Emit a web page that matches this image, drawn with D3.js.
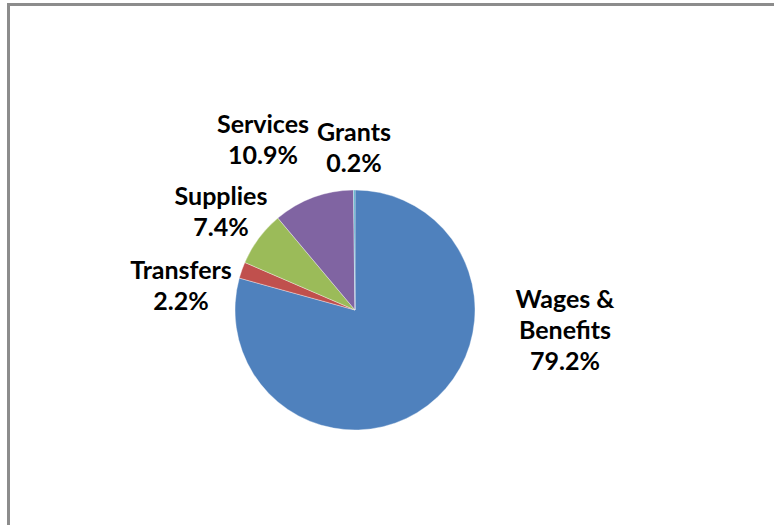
<!DOCTYPE html>
<html>
<head>
<meta charset="utf-8">
<script src="https://cdn.jsdelivr.net/npm/d3@7"></script>
<style>
  html, body { margin: 0; padding: 0; background: #fff; }
  svg { display: block; }
  .lbl { font-family: Lato, "Open Sans", sans-serif; font-weight: 700; fill: #000; }
</style>
</head>
<body>
<svg id="chart" width="774" height="525"></svg>
<script>
// Budget breakdown by expense category (percent of total)
const categories = ["Wages & Benefits", "Transfers", "Supplies", "Services", "Grants"];
const shares = [79.2, 2.2, 7.4, 10.9, 0.2];
const colors = ["#4F81BD", "#C0504D", "#9BBB59", "#8064A2", "#4BACC6"];

// Label lines for each category, placed outside its slice
const labelLines = [
  ["Wages &", "Benefits"],
  ["Transfers"],
  ["Supplies"],
  ["Services"],
  ["Grants"]
];
const labelPos = [
  { x: 565, y: 308 },
  { x: 181, y: 279 },
  { x: 221, y: 205 },
  { x: 263, y: 133 },
  { x: 354, y: 141 }
];

const svg = d3.select("#chart");

// Chart frame
svg.append("path")
  .attr("d", "M8.5,530 L8.5,4.5 L780,4.5")
  .attr("fill", "none")
  .attr("stroke", "#8c8c8c")
  .attr("stroke-width", 3);

const cx = 355, cy = 310, r = 120;

const pie = d3.pie().sort(null).value(d => d.value)
  .startAngle(0).endAngle(2 * Math.PI);
const arc = d3.arc().innerRadius(0).outerRadius(r);

const data = categories.map((c, i) => ({ name: c, value: shares[i], color: colors[i] }));

const g = svg.append("g").attr("transform", `translate(${cx},${cy})`);
g.selectAll("path.slice")
  .data(pie(data))
  .join("path")
  .attr("class", "slice")
  .attr("d", arc)
  .attr("fill", d => d.data.color)
  .attr("stroke", "#ffffff")
  .attr("stroke-opacity", 0.6)
  .attr("stroke-width", 0.6);

const lineH = 31;
const labels = svg.append("g");
data.forEach((d, i) => {
  const lines = labelLines[i].concat([d3.format(".1f")(d.value) + "%"]);
  const t = labels.append("text")
    .attr("class", "lbl")
    .attr("text-anchor", "middle")
    .attr("font-size", 25);
  lines.forEach((s, k) => {
    t.append("tspan")
      .attr("x", labelPos[i].x)
      .attr("y", labelPos[i].y + k * lineH)
      .text(s);
  });
});
</script>
</body>
</html>
